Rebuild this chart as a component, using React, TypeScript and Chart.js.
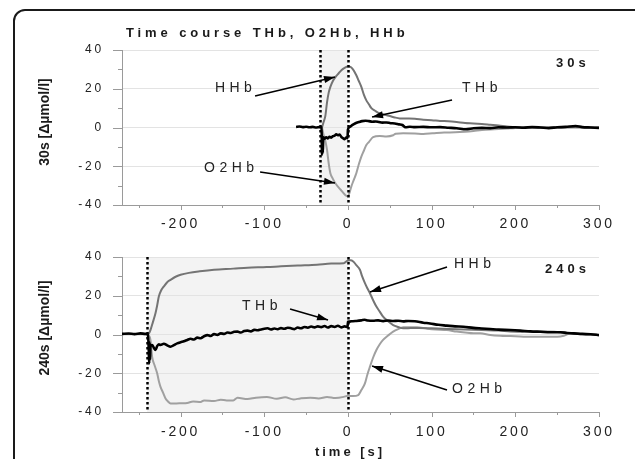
import React, { useEffect, useRef } from "react";
import { Chart, registerables } from "chart.js";

Chart.register(...registerables);

const FONT = "'Liberation Sans', Arial, Helvetica, sans-serif";

// ---------- axes ----------
const xMin = -270;
const xMax = 300;
const yMin = -40;
const yMax = 40;
const xMajorTicks = [-200, -100, 0, 100, 200, 300];
const xMinorTicks = [-250, -150, -50, 50, 150, 250];
const yMajorTicks = [-40, -20, 0, 20, 40];
const yMinorTicks = [-30, -10, 10, 30];

// ---------- texts ----------
const mainTitle = "Time course THb, O2Hb, HHb";
const xTitle = "time [s]";
const topYTitle = "30s [Δµmol/l]";
const botYTitle = "240s [Δµmol/l]";
const topCorner = "30s";
const botCorner = "240s";
const seriesNames = ["THb", "HHb", "O2Hb"];

// ---------- 30 s occlusion ----------
const topWindow = [-33, 0];

const top30THb: [number, number][] = [
  [-62, 0.3], [-58, 0.5], [-54, 0.2], [-50, 0.4], [-46, 0.1], [-42, 0.3], [-38, 0.0], [-34, 0.2],
  [-31.5, 0], [-31, -14], [-30.5, -6], [-30, -13], [-29.5, -5], [-28, -5.8], [-26, -5], [-24, -5.6],
  [-22, -4.8], [-20, -5.2], [-18, -4.5], [-16, -4.2], [-14, -3.5], [-12, -4.0], [-10, -3.6], [-8, -4.8],
  [-6, -5.5], [-4, -6], [-2, -5.2], [-0.5, -5.5], [0, -1], [2, 0.2], [5, 1.2], [9, 2.2],
  [13, 2.8], [17, 3.3], [21, 3.5], [25, 3.3], [29, 3.0], [33, 3.1], [37, 2.8], [41, 2.5],
  [46, 2.6], [51, 2.2], [56, 2.1], [61, 1.6], [65, 1.3], [67, 0.6], [69, 0.1], [74, 0.4],
  [80, 0.2], [90, 0.3], [100, 0.1], [110, 0.2], [120, -0.1], [130, -0.4], [141, -0.9], [150, -0.4],
  [160, -0.2], [170, -0.3], [180, 0.1], [190, 0], [200, 0.1], [210, -0.1], [220, 0.2], [230, 0.0],
  [240, -0.3], [250, 0.1], [260, 0.3], [272, 0.8], [280, 0.2], [290, 0.0], [300, -0.2],
];

const top30HHb: [number, number][] = [
  [-31, 0], [-29, 3], [-27, 6], [-25, 13], [-23, 18], [-21, 21], [-18, 24], [-15, 26],
  [-11, 28], [-7.5, 29.7], [-4, 30.8], [0, 31.5], [3, 31.3], [6, 30], [10, 27], [13, 24],
  [16, 21], [19, 17], [22, 14], [25, 12], [28, 10], [33, 8.5], [38, 7.3], [44, 6.5],
  [50, 5.9], [56, 5.2], [62, 4.7], [70, 4.6], [80, 4.5], [90, 4.0], [100, 3.8], [110, 3.4],
  [120, 3.2], [130, 2.8], [140, 2.3], [150, 2.1], [160, 1.8], [170, 1.4], [180, 1.0], [190, 0.5],
  [200, 0.1], [220, 0.1], [240, -0.2], [260, 0.2], [280, 0.1], [300, -0.1],
];

const top30O2Hb: [number, number][] = [
  [-31, 0], [-29, -4], [-27, -7], [-25, -11.6], [-23, -18.5], [-21, -23.6], [-18, -26.5], [-15, -28.8],
  [-12, -30.5], [-9, -32], [-6, -33.5], [-3, -35], [0, -35.5], [2, -33.5], [4, -30.5], [7, -27],
  [10, -23.6], [13, -19], [16, -15], [19, -12], [22, -9], [25, -7.5], [30, -5], [38, -4.4],
  [46, -4.6], [54, -4.0], [57, -3.2], [66, -3.0], [80, -3.1], [90, -3.3], [101, -3.0], [115, -2.6],
  [128, -2.5], [140, -2.2], [150, -1.8], [160, -1.3], [175, -0.9], [190, -0.5], [200, -0.2], [220, 0],
  [240, 0.1], [260, -0.1], [280, 0], [300, 0],
];

// ---------- 240 s occlusion ----------
const botWindow = [-240, 0];

const bot240THb: [number, number][] = [
  [-270, 0.3], [-262, 0.5], [-255, 0.2], [-248, 0.6], [-242, 0.3], [-239, 0], [-238, -8], [-237.5, -15],
  [-237, -4], [-236.5, -13], [-236, -6], [-234, -5.4], [-232, -6.8], [-230, -8], [-228, -6], [-226, -5],
  [-224, -5.4], [-220, -4.8], [-216, -5.6], [-212, -6.3], [-208, -5.5], [-204, -4.6], [-200, -4.0], [-196, -3.5],
  [-192, -2.8], [-188, -2.2], [-184, -2.6], [-180, -1.6], [-176, -1.9], [-172, -0.9], [-168, -0.3], [-164, -0.8],
  [-160, 0.2], [-156, -0.2], [-152, 0.6], [-148, 0.3], [-144, 1.0], [-140, 0.8], [-136, 1.4], [-132, 1.5],
  [-128, 1.0], [-124, 1.8], [-120, 2.0], [-116, 1.6], [-112, 2.4], [-108, 2.2], [-104, 2.6], [-100, 3.0],
  [-96, 3.2], [-92, 2.6], [-88, 3.1], [-84, 2.7], [-80, 3.3], [-76, 3.0], [-72, 3.5], [-68, 3.2],
  [-64, 2.8], [-60, 3.6], [-56, 3.2], [-52, 3.9], [-48, 3.5], [-44, 4.1], [-40, 3.7], [-36, 4.2],
  [-32, 3.8], [-28, 4.4], [-24, 3.6], [-20, 4.3], [-16, 3.9], [-12, 4.5], [-8, 3.7], [-4, 4.2],
  [-0.5, 3.9], [0, 6.6], [4, 6.8], [10, 7.0], [16, 7.3], [20, 7.6], [24, 7.2], [30, 7.1],
  [36, 7.3], [42, 6.9], [48, 7.2], [54, 7.0], [60, 7.1], [66, 6.8], [72, 7.0], [80, 6.8],
  [90, 6.1], [98, 5.7], [108, 5.0], [118, 4.6], [128, 4.2], [138, 4.0], [150, 3.4], [160, 3.1],
  [170, 2.8], [180, 2.5], [194, 2.3], [206, 2.0], [218, 1.6], [230, 1.4], [242, 1.2], [254, 1.2],
  [262, 0.8], [270, 0.6], [280, 0.3], [290, 0.1], [300, -0.3],
];

const bot240HHb: [number, number][] = [
  [-270, 0.2], [-240, 0.2], [-238, 0.5], [-236, 2.3], [-233, 6.5], [-230, 11], [-228, 15], [-226, 19.6],
  [-223, 23], [-220, 24.8], [-216, 27], [-212, 28.2], [-206, 29.8], [-200, 30.8], [-190, 31.8], [-177, 32.6],
  [-160, 33.4], [-137, 34], [-120, 34.5], [-97, 34.8], [-80, 35.2], [-60, 35.6], [-37, 36], [-20, 36.6],
  [-5, 36.8], [0, 38.2], [3, 38.3], [6.3, 37.7], [10, 35.8], [14.3, 33.4], [17, 30], [20.3, 26.5],
  [23, 24], [26.3, 21.3], [30, 17.8], [34, 14.4], [38, 11.8], [42, 9.2], [48, 6.8], [54, 4.9],
  [60, 3.9], [66, 3.2], [75, 3.3], [85, 3.4], [100, 3.2], [120, 2.9], [140, 2.6], [160, 2.3],
  [180, 2.0], [194, 1.6], [210, 1.4], [230, 1.5], [250, 1.3], [262, 0.7], [275, 0.3], [290, 0.1],
  [300, -0.2],
];

const bot240O2Hb: [number, number][] = [
  [-270, 0.1], [-240, 0.1], [-238, -0.5], [-236, -2.8], [-234, -11.5], [-231, -16], [-228, -20], [-226, -24],
  [-224, -27], [-221, -30], [-218, -33], [-215, -34.6], [-212, -35.6], [-205, -35.6], [-200, -35.5], [-192, -35.3],
  [-185, -34.6], [-176, -34.8], [-172, -34], [-160, -34.3], [-152, -33.7], [-145, -34], [-137, -34], [-132, -32.7],
  [-120, -33.3], [-110, -32.6], [-97, -32.2], [-85, -33.2], [-75, -32.4], [-65, -33.5], [-57, -33], [-45, -32.6],
  [-35, -33], [-25, -32.2], [-15, -32.8], [-5, -32.2], [0, -31.6], [6, -31.8], [12.3, -31.3], [16, -28.7],
  [20.3, -25.2], [23, -21], [26.3, -16.6], [30, -12], [34, -8], [38, -5], [42, -2.8], [48, -0.5],
  [54, 1.5], [60, 2.8], [66, 3.7], [74, 3.8], [82.5, 3.7], [95, 3.0], [105, 2.6], [118, 2.3],
  [130, 1.5], [140, 1.0], [150, 0.6], [158, 0.6], [170, -0.2], [182, -0.6], [194, -0.8], [210, -1.1],
  [230, -1.2], [250, -1.1], [258, -0.6], [266, 0.6], [275, 0.2], [290, 0], [300, -0.2],
];

// ---------- annotations: [label, labelX, labelY, fromX, fromY, toX, toY] in data units ----------
type Annot = [string, number, number, number, number, number, number];
const topAnnots: Annot[] = [
  ["HHb", -159, 18.3, -111, 16.3, -15.5, 26.1],
  ["THb", 136.3, 18.3, 124.4, 14.2, 28.8, 5.4],
  ["O2Hb", -172, -23, -105, -23, -15.5, -28.6],
];
const botAnnots: Annot[] = [
  ["HHb", 126.7, 34.3, 118.4, 34.8, 26.4, 21.9],
  ["O2Hb", 124.4, -30.2, 118.4, -28.6, 28.8, -16.3],
  ["THb", -126.6, 12.6, -69.2, 13.2, -23.8, 7.5],
];

interface PanelSpec {
  top: number;
  height: number;
  padTop: number;
  xAxisHeight: number;
  labelPad: number;
  thb: [number, number][];
  hhb: [number, number][];
  o2hb: [number, number][];
  windowRange: number[];
  annots: Annot[];
  yTitle: string;
  yTitleCenter: number;
  corner: string;
  cornerX: number;
  cornerY: number;
  showMainTitle: boolean;
  showXTitle: boolean;
}

function drawArrow(ctx: any, x1: number, y1: number, x2: number, y2: number) {
  ctx.beginPath();
  ctx.moveTo(x1, y1);
  ctx.lineTo(x2, y2);
  ctx.stroke();
  const ang = Math.atan2(y2 - y1, x2 - x1);
  const L = 11;
  const W = 3.5;
  const c = Math.cos(ang);
  const s = Math.sin(ang);
  ctx.beginPath();
  ctx.moveTo(x2, y2);
  ctx.lineTo(x2 - L * c + W * s, y2 - L * s - W * c);
  ctx.lineTo(x2 - L * c - W * s, y2 - L * s + W * c);
  ctx.closePath();
  ctx.fill();
}

function makePlugin(p: PanelSpec) {
  return {
    id: "panelDeco",
    beforeDraw(chart: any) {
      const { ctx, chartArea: a } = chart;
      const x = chart.scales.x;
      ctx.save();
      ctx.fillStyle = "#f3f3f3";
      const x0 = x.getPixelForValue(p.windowRange[0]);
      const x1 = x.getPixelForValue(p.windowRange[1]);
      ctx.fillRect(x0, a.top, x1 - x0, a.bottom - a.top);
      ctx.restore();
      ctx.letterSpacing = "2.8px";
    },
    afterDatasetsDraw(chart: any) {
      const { ctx, chartArea: a } = chart;
      const x = chart.scales.x;
      const y = chart.scales.y;
      ctx.save();
      // dotted window borders
      ctx.strokeStyle = "#000";
      ctx.lineWidth = 2.5;
      ctx.setLineDash([2.5, 2.5]);
      for (const v of p.windowRange) {
        const px = Math.round(x.getPixelForValue(v)) + 0.5;
        ctx.beginPath();
        ctx.moveTo(px, a.top);
        ctx.lineTo(px, a.bottom);
        ctx.stroke();
      }
      ctx.setLineDash([]);
      // annotations
      ctx.lineWidth = 1.5;
      ctx.strokeStyle = "#000";
      ctx.fillStyle = "#000";
      for (const [label, lx, ly, fx, fy, tx, ty] of p.annots) {
        drawArrow(
          ctx,
          x.getPixelForValue(fx),
          y.getPixelForValue(fy),
          x.getPixelForValue(tx),
          y.getPixelForValue(ty)
        );
        ctx.letterSpacing = "4.5px";
        ctx.font = `14px ${FONT}`;
        ctx.fillStyle = "#222";
        ctx.textAlign = "left";
        ctx.textBaseline = "alphabetic";
        ctx.fillText(label, x.getPixelForValue(lx), y.getPixelForValue(ly));
        ctx.fillStyle = "#000";
      }
      ctx.restore();
    },
    afterDraw(chart: any) {
      const { ctx, chartArea: a } = chart;
      const x = chart.scales.x;
      const y = chart.scales.y;
      ctx.save();
      // tick marks
      ctx.strokeStyle = "#9a9a9a";
      ctx.lineWidth = 1;
      for (const v of yMajorTicks) {
        const py = Math.round(y.getPixelForValue(v)) + 0.5;
        ctx.beginPath();
        ctx.moveTo(a.left - 9, py);
        ctx.lineTo(a.left, py);
        ctx.stroke();
      }
      for (const v of yMinorTicks) {
        const py = Math.round(y.getPixelForValue(v)) + 0.5;
        ctx.beginPath();
        ctx.moveTo(a.left - 4, py);
        ctx.lineTo(a.left, py);
        ctx.stroke();
      }
      for (const v of xMajorTicks) {
        const px = Math.round(x.getPixelForValue(v)) + 0.5;
        ctx.beginPath();
        ctx.moveTo(px, a.bottom);
        ctx.lineTo(px, a.bottom + 5);
        ctx.stroke();
      }
      for (const v of xMinorTicks) {
        const px = Math.round(x.getPixelForValue(v)) + 0.5;
        ctx.beginPath();
        ctx.moveTo(px, a.bottom);
        ctx.lineTo(px, a.bottom + 3);
        ctx.stroke();
      }
      ctx.fillStyle = "#1a1a1a";
      // y title
      ctx.letterSpacing = "0px";
      ctx.save();
      ctx.translate(45, p.yTitleCenter);
      ctx.rotate(-Math.PI / 2);
      ctx.font = `bold 14px ${FONT}`;
      ctx.textAlign = "center";
      ctx.textBaseline = "middle";
      ctx.fillText(p.yTitle, 0, 0);
      ctx.restore();
      // corner label
      ctx.letterSpacing = "4px";
      ctx.font = `bold 13px ${FONT}`;
      ctx.textAlign = "left";
      ctx.textBaseline = "alphabetic";
      ctx.fillText(p.corner, p.cornerX, p.cornerY);
      if (p.showMainTitle) {
        ctx.letterSpacing = "3.9px";
        ctx.font = `bold 13px ${FONT}`;
        ctx.fillText(mainTitle, 126, 37);
      }
      if (p.showXTitle) {
        ctx.letterSpacing = "3px";
        ctx.font = `bold 13px ${FONT}`;
        ctx.textAlign = "center";
        ctx.fillText(xTitle, 350, 226);
      }
      ctx.restore();
      ctx.letterSpacing = "0px";
    },
  };
}

function Panel({ spec }: { spec: PanelSpec }) {
  const ref = useRef<HTMLCanvasElement>(null);
  useEffect(() => {
    const canvas = ref.current;
    if (!canvas) return;
    const mk = (name: string, pts: [number, number][], color: string, w: number) => ({
      label: name,
      data: pts.map(([px, py]) => ({ x: px, y: py })),
      borderColor: color,
      backgroundColor: color,
      borderWidth: w,
      pointRadius: 0,
      fill: false,
      cubicInterpolationMode: "monotone" as const,
    });
    const chart = new Chart(canvas, {
      type: "line",
      data: {
        datasets: [
          mk(seriesNames[0], spec.thb, "#000000", 2.6),
          mk(seriesNames[1], spec.hhb, "#747474", 2),
          mk(seriesNames[2], spec.o2hb, "#a0a0a0", 2),
        ],
      },
      options: {
        animation: false,
        responsive: false,
        devicePixelRatio: 1,
        events: [],
        layout: { padding: { top: spec.padTop, right: 36, left: 0, bottom: 0 } },
        plugins: { legend: { display: false }, tooltip: { enabled: false }, title: { display: false } },
        scales: {
          x: {
            type: "linear",
            min: xMin,
            max: xMax,
            afterBuildTicks: (s: any) => {
              s.ticks = xMajorTicks.map((v) => ({ value: v }));
            },
            afterFit: (s: any) => {
              s.height = spec.xAxisHeight;
            },
            grid: { display: false },
            border: { display: true, color: "#9a9a9a", width: 1 },
            ticks: {
              autoSkip: false,
              maxRotation: 0,
              padding: spec.labelPad,
              color: "#222",
              font: { family: FONT, size: 14 },
            },
          },
          y: {
            type: "linear",
            min: yMin,
            max: yMax,
            afterBuildTicks: (s: any) => {
              s.ticks = yMajorTicks.map((v) => ({ value: v }));
            },
            afterFit: (s: any) => {
              s.width = 122;
            },
            grid: { color: "#e3e3e3", drawTicks: false, lineWidth: 1 },
            border: { display: true, color: "#9a9a9a", width: 1 },
            ticks: {
              padding: 18,
              color: "#222",
              font: { family: FONT, size: 12 },
            },
          },
        },
      },
      plugins: [makePlugin(spec)],
    } as any);
    return () => chart.destroy();
  }, [spec]);
  return (
    <canvas
      ref={ref}
      width={635}
      height={spec.height}
      style={{ position: "absolute", left: 0, top: spec.top, width: 635, height: spec.height }}
    />
  );
}

const topSpec: PanelSpec = {
  top: 0,
  height: 240,
  padTop: 50,
  xAxisHeight: 35,
  labelPad: 3,
  thb: top30THb,
  hhb: top30HHb,
  o2hb: top30O2Hb,
  windowRange: topWindow,
  annots: topAnnots,
  yTitle: topYTitle,
  yTitleCenter: 122,
  corner: topCorner,
  cornerX: 556,
  cornerY: 67,
  showMainTitle: true,
  showXTitle: false,
};

const botSpec: PanelSpec = {
  top: 230,
  height: 229,
  padTop: 27,
  xAxisHeight: 47,
  labelPad: 4,
  thb: bot240THb,
  hhb: bot240HHb,
  o2hb: bot240O2Hb,
  windowRange: botWindow,
  annots: botAnnots,
  yTitle: botYTitle,
  yTitleCenter: 98,
  corner: botCorner,
  cornerX: 545,
  cornerY: 43,
  showMainTitle: false,
  showXTitle: true,
};

export default function App() {
  return (
    <div
      style={{
        position: "fixed",
        left: 0,
        top: 0,
        width: 635,
        height: 459,
        overflow: "hidden",
        background: "#fff",
      }}
    >
      <div
        style={{
          position: "absolute",
          left: 13,
          top: 9,
          width: 660,
          height: 520,
          border: "2px solid #1a1a1a",
          borderRadius: 12,
          boxSizing: "border-box",
        }}
      />
      <Panel spec={topSpec} />
      <Panel spec={botSpec} />
    </div>
  );
}
